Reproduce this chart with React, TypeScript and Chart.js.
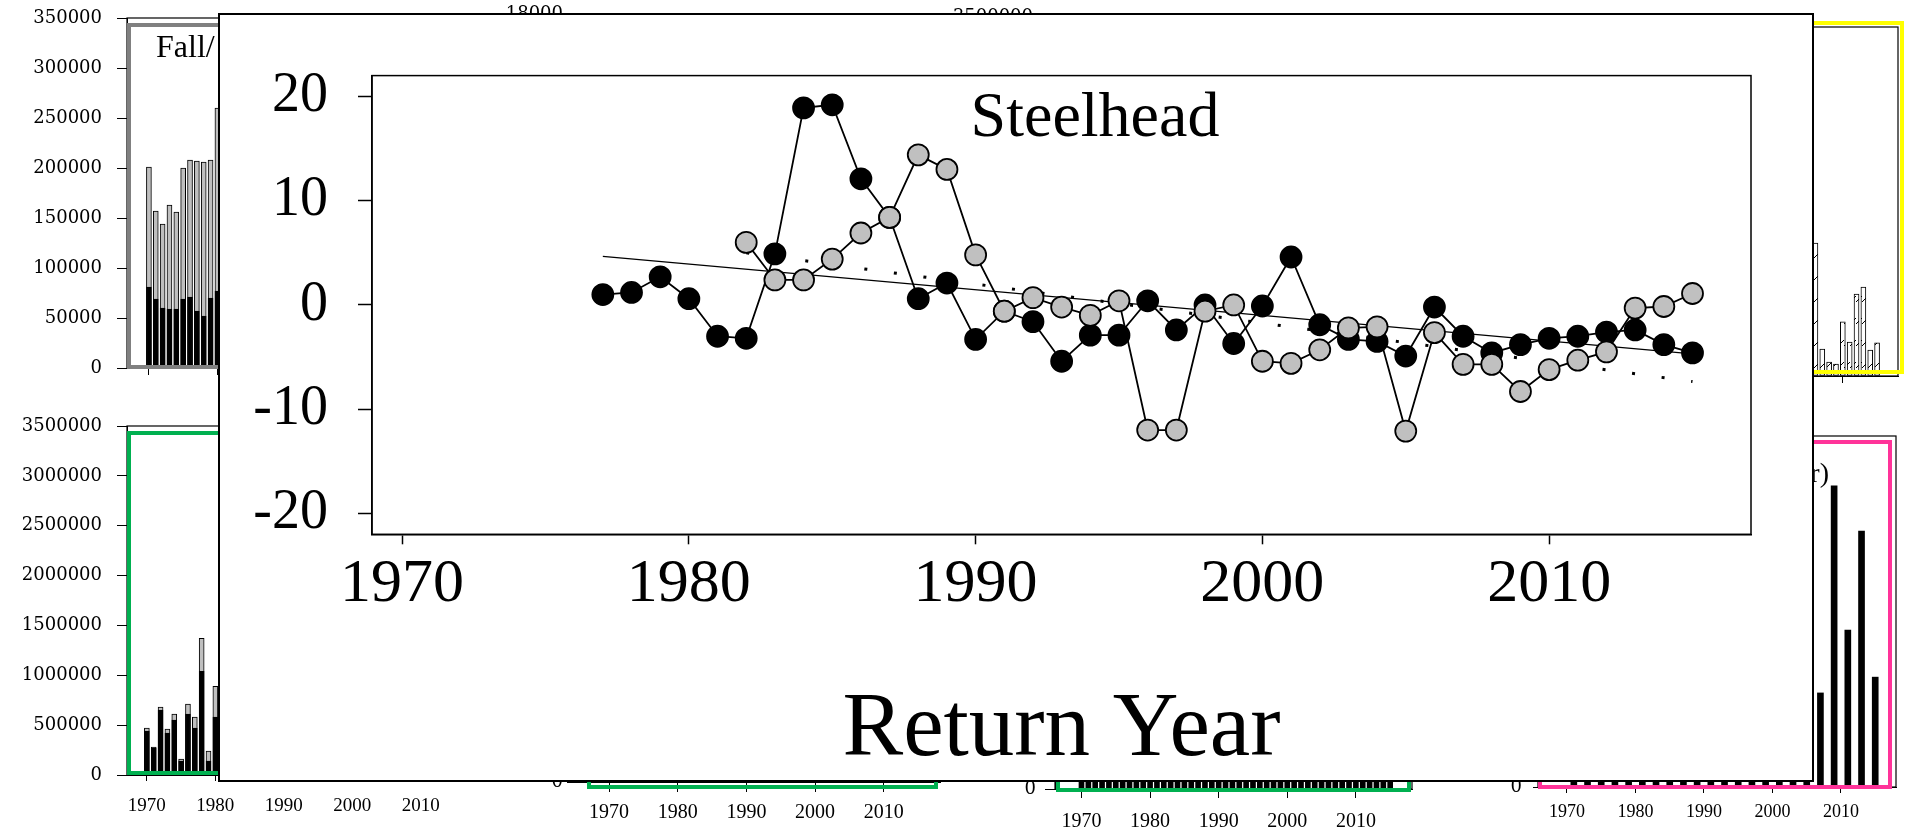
import React, { useEffect, useRef } from 'react';
import { Chart, registerables } from 'chart.js';
Chart.register(...registerables);

// ================= Main chart (Steelhead) =================
const mainXTicks = [1970, 1980, 1990, 2000, 2010];
const mainYTicks = [-20, -10, 0, 10, 20];
const mainTitle = 'Steelhead';
const mainXTitle = 'Return Year';

const steelheadBlackYears = [1977, 1978, 1979, 1980, 1981, 1982, 1983, 1984, 1985, 1986, 1987, 1988, 1989, 1990, 1991, 1992, 1993, 1994, 1995, 1996, 1997, 1998, 1999, 2000, 2001, 2002, 2003, 2004, 2005, 2006, 2007, 2008, 2009, 2010, 2011, 2012, 2013, 2014, 2015];
const steelheadBlack = [1.0, 1.2, 2.7, 0.6, -3.0, -3.2, 4.9, 18.9, 19.2, 12.1, 8.4, 0.6, 2.1, -3.3, -0.6, -1.6, -5.4, -2.9, -2.9, 0.4, -2.4, 0.0, -3.7, -0.1, 4.6, -1.9, -3.3, -3.5, -4.9, -0.2, -3.0, -4.6, -3.8, -3.2, -3.0, -2.6, -2.4, -3.8, -4.6];

const steelheadGrayYears = [1982, 1983, 1984, 1985, 1986, 1987, 1988, 1989, 1990, 1991, 1992, 1993, 1994, 1995, 1996, 1997, 1998, 1999, 2000, 2001, 2002, 2003, 2004, 2005, 2006, 2007, 2008, 2009, 2010, 2011, 2012, 2013, 2014, 2015];
const steelheadGray = [6.0, 2.4, 2.4, 4.4, 6.9, 8.4, 14.4, 13.0, 4.8, -0.6, 0.7, -0.2, -1.0, 0.4, -12.0, -12.0, -0.6, 0.0, -5.4, -5.6, -4.3, -2.2, -2.1, -12.1, -2.65, -5.7, -5.7, -8.3, -6.2, -5.3, -4.5, -0.3, -0.15, 1.1];

const trendBlackYears = [1977, 2015];
const trendBlackValues = [4.65, -4.7];
const trendGrayYears = [1982, 2015];
const trendGrayValues = [5.0, -7.35];

// ================= Background panels =================
const decadeTicks = [1970, 1980, 1990, 2000, 2010];
const zeroTick = [0];

// Top-left panel (Fall/...)
const fallTitle = 'Fall/ Summer Chinook';
const fallYears = [1970, 1971, 1972, 1973, 1974, 1975, 1976, 1977, 1978, 1979, 1980];
const fallTotal = [201000, 157000, 144000, 163000, 156000, 200000, 208000, 207000, 206000, 208000, 260000];
const fallBlack = [81000, 69000, 60000, 59000, 59000, 69000, 71000, 57000, 52000, 70000, 77000];
const fallYTicks = [0, 50000, 100000, 150000, 200000, 250000, 300000, 350000];

// Bottom-left panel
const lowerLeftYears = [1970, 1971, 1972, 1973, 1974, 1975, 1976, 1977, 1978, 1979, 1980];
const lowerLeftTotal = [470000, 280000, 680000, 460000, 610000, 160000, 710000, 580000, 1370000, 240000, 890000];
const lowerLeftBlack = [440000, 270000, 650000, 420000, 550000, 140000, 610000, 470000, 1040000, 140000, 580000];
const millionTicks = [0, 500000, 1000000, 1500000, 2000000, 2500000, 3000000, 3500000];

// Top middle panels (only the top tick labels peek out)
const topMid1YTicks = [0, 2000, 4000, 6000, 8000, 10000, 12000, 14000, 16000, 18000];

// Bottom third panel (dense yearly bars, only their feet are visible)
const denseYears = [1970, 1971, 1972, 1973, 1974, 1975, 1976, 1977, 1978, 1979, 1980, 1981, 1982, 1983, 1984, 1985, 1986, 1987, 1988, 1989, 1990, 1991, 1992, 1993, 1994, 1995, 1996, 1997, 1998, 1999, 2000, 2001, 2002, 2003, 2004, 2005, 2006, 2007, 2008, 2009, 2010, 2011, 2012, 2013, 2014, 2015];
const denseValues = [2.5, 2.5, 2.5, 2.5, 2.5, 2.5, 2.5, 2.5, 2.5, 2.5, 2.5, 2.5, 2.5, 2.5, 2.5, 2.5, 2.5, 2.5, 2.5, 2.5, 2.5, 2.5, 2.5, 2.5, 2.5, 2.5, 2.5, 2.5, 2.5, 2.5, 2.5, 2.5, 2.5, 2.5, 2.5, 2.5, 2.5, 2.5, 2.5, 2.5, 2.5, 2.5, 2.5, 2.5, 2.5, 2.5];

// Bottom-right panel (pink, odd years)
const pinkTitle = 'Pink (odd year)';
const pinkYears = [1971, 1973, 1975, 1977, 1979, 1981, 1983, 1985, 1987, 1989, 1991, 1993, 1995, 1997, 1999, 2001, 2003, 2005, 2007, 2009, 2011, 2013, 2015];
const pinkValues = [2, 2, 2, 2, 2, 2, 2, 2, 2, 2, 2, 2, 2, 2, 2, 2, 2, 2, 26.8, 85.8, 44.7, 72.9, 31.3];

// Top-right panel (yellow, hatched bars)
const yellowYears = [2006, 2007, 2008, 2009, 2010, 2011, 2012, 2013, 2014, 2015];
const yellowValues = [38.1, 7.7, 4.0, 3.4, 15.5, 9.7, 23.5, 25.5, 7.4, 9.5];

// ================= Layout specs =================
type Box = { color: string; lw: number; l: number; t: number; r: number; b: number };
type Txt = { str: string; dx: number; dy: number; align: CanvasTextAlign; size: number; fromRight?: boolean };
type PanelLayout = {
  key: string;
  left: number; top: number; width: number; height: number;
  yAxisW: number; xAxisH: number; padTop: number; padRight: number;
  xMin: number; xMax: number; xTicks: number[]; xLabels: boolean; xTickLen: number; xLabelPad: number; xFont: number;
  yMin: number; yMax: number; yTicks: number[]; yLabels: boolean; yTickLen: number; yLabelPad: number; yFont: number;
  frame: boolean; box?: Box; text?: Txt;
};

const PX_PER_YEAR = 6.85;
const Y_LABEL_FONT = 18;

const panels: PanelLayout[] = [
  {
    key: 'tl', left: 0, top: 0, width: 486, height: 380, yAxisW: 127, xAxisH: 12, padTop: 18, padRight: 10,
    xMin: 1966.8, xMax: 1966.8 + 349 / PX_PER_YEAR, xTicks: decadeTicks, xLabels: false, xTickLen: 7, xLabelPad: 4, xFont: 19,
    yMin: 0, yMax: 350000, yTicks: fallYTicks, yLabels: true, yTickLen: 10, yLabelPad: 15, yFont: Y_LABEL_FONT,
    frame: true, box: { color: '#808080', lw: 4, l: 2, t: 7, r: -6, b: -1 },
    text: { str: fallTitle, dx: 29, dy: 39, align: 'left', size: 32 },
  },
  {
    key: 'bl', left: 0, top: 400, width: 486, height: 420, yAxisW: 127, xAxisH: 45, padTop: 26, padRight: 10,
    xMin: 1967.1, xMax: 1967.1 + 349 / PX_PER_YEAR, xTicks: decadeTicks, xLabels: true, xTickLen: 6, xLabelPad: 14, xFont: 19,
    yMin: 0, yMax: 3500000, yTicks: millionTicks, yLabels: true, yTickLen: 10, yLabelPad: 15, yFont: Y_LABEL_FONT,
    frame: true, box: { color: '#00b050', lw: 4, l: 2, t: 7, r: -6, b: -2 },
  },
  {
    key: 'tm1', left: 461, top: 0, width: 489, height: 380, yAxisW: 127, xAxisH: 12, padTop: 14.5, padRight: 10,
    xMin: 1966.8, xMax: 2018, xTicks: decadeTicks, xLabels: false, xTickLen: 7, xLabelPad: 4, xFont: 19,
    yMin: 0, yMax: 18000, yTicks: topMid1YTicks, yLabels: true, yTickLen: 10, yLabelPad: 15, yFont: Y_LABEL_FONT,
    frame: true,
  },
  {
    key: 'tm2', left: 931, top: 0, width: 489, height: 380, yAxisW: 127, xAxisH: 12, padTop: 17.5, padRight: 10,
    xMin: 1966.8, xMax: 2018, xTicks: decadeTicks, xLabels: false, xTickLen: 7, xLabelPad: 4, xFont: 19,
    yMin: 0, yMax: 3500000, yTicks: millionTicks, yLabels: true, yTickLen: 10, yLabelPad: 15, yFont: Y_LABEL_FONT,
    frame: true,
  },
  {
    key: 'bm1', left: 497, top: 426, width: 463, height: 404, yAxisW: 80, xAxisH: 48, padTop: 10, padRight: 20,
    xMin: 1965.34, xMax: 1965.34 + 363 / 6.87, xTicks: decadeTicks, xLabels: true, xTickLen: 10, xLabelPad: 9, xFont: 20,
    yMin: 0, yMax: 100, yTicks: zeroTick, yLabels: true, yTickLen: 10, yLabelPad: 4, yFont: Y_LABEL_FONT,
    frame: true, box: { color: '#00b050', lw: 4, l: 12, t: 8, r: -4, b: 5 },
  },
  {
    key: 'bm2', left: 975, top: 426, width: 457, height: 404, yAxisW: 80, xAxisH: 41, padTop: 10, padRight: 20,
    xMin: 1966.14, xMax: 1966.14 + 357 / 6.86, xTicks: decadeTicks, xLabels: true, xTickLen: 9, xLabelPad: 12, xFont: 20,
    yMin: 0, yMax: 100, yTicks: zeroTick, yLabels: true, yTickLen: 10, yLabelPad: 9, yFont: Y_LABEL_FONT,
    frame: true, box: { color: '#00b050', lw: 4, l: 3, t: 8, r: -3, b: 1 },
  },
  {
    key: 'br', left: 1478, top: 426, width: 427, height: 401, yAxisW: 60, xAxisH: 40, padTop: 10, padRight: 9,
    xMin: 1965.77, xMax: 1965.77 + 358 / PX_PER_YEAR, xTicks: decadeTicks, xLabels: true, xTickLen: 6, xLabelPad: 8.2, xFont: 18,
    yMin: 0, yMax: 100, yTicks: zeroTick, yLabels: true, yTickLen: 5, yLabelPad: 11, yFont: Y_LABEL_FONT,
    frame: true, box: { color: '#ff3399', lw: 4, l: 2, t: 6, r: -6, b: 0 },
    text: { str: pinkTitle, dx: -67, dy: 46, align: 'right', size: 28, fromRight: true },
  },
  {
    key: 'tr', left: 1478, top: 0, width: 427, height: 388, yAxisW: 60, xAxisH: 12, padTop: 27, padRight: 7,
    xMin: 1965.5, xMax: 1965.5 + 360 / PX_PER_YEAR, xTicks: decadeTicks, xLabels: false, xTickLen: 7, xLabelPad: 4, xFont: 18,
    yMin: 0, yMax: 100, yTicks: zeroTick, yLabels: false, yTickLen: 5, yLabelPad: 11, yFont: Y_LABEL_FONT,
    frame: true, box: { color: '#ffff00', lw: 4, l: 2, t: -4, r: 4, b: -4 },
  },
];

// ================= Helpers =================
function decoPlugin(opts: { frame: boolean; frameW: number; box?: Box; text?: Txt; font: string }) {
  return {
    id: 'deco',
    afterDatasetsDraw(chart: any) {
      const { ctx, chartArea: a } = chart;
      ctx.save();
      if (opts.frame) {
        ctx.strokeStyle = '#000';
        ctx.lineWidth = opts.frameW;
        ctx.strokeRect(a.left, a.top, a.right - a.left, a.bottom - a.top);
      }
      if (opts.box) {
        const b = opts.box;
        const x1 = a.left + b.l, y1 = a.top + b.t, x2 = a.right + b.r, y2 = a.bottom + b.b;
        ctx.strokeStyle = b.color;
        ctx.lineWidth = b.lw;
        ctx.strokeRect(x1, y1, x2 - x1, y2 - y1);
      }
      if (opts.text) {
        const t = opts.text;
        ctx.fillStyle = '#000';
        ctx.font = `${t.size}px ${opts.font}`;
        ctx.textAlign = t.align;
        ctx.textBaseline = 'alphabetic';
        const x = t.fromRight ? a.right + t.dx : a.left + t.dx;
        ctx.fillText(t.str, x, a.top + t.dy);
      }
      ctx.restore();
    },
  };
}

// keep the chart area exactly where the layout says (no extra label padding)
const noPad = (s: any) => {
  s.paddingTop = 0;
  s.paddingBottom = 0;
  s.paddingLeft = 0;
  s.paddingRight = 0;
};

const toPoints = (xs: number[], ys: number[]) => xs.map((x, i) => ({ x, y: ys[i] }));

function makePanel(canvas: HTMLCanvasElement, p: PanelLayout, datasets: any[]) {
  return new Chart(canvas, {
    type: 'bar',
    data: { datasets },
    options: {
      animation: false,
      responsive: false,
      devicePixelRatio: 1,
      events: [],
      layout: { padding: { top: p.padTop, right: p.padRight, left: 0, bottom: 0 } },
      plugins: { legend: { display: false }, tooltip: { enabled: false } },
      scales: {
        x: {
          type: 'linear', min: p.xMin, max: p.xMax, offset: false,
          afterBuildTicks: (s: any) => { s.ticks = p.xTicks.map((v) => ({ value: v })); },
          afterFit: (s: any) => { s.height = p.xAxisH; noPad(s); },
          grid: { offset: false, drawOnChartArea: false, drawTicks: true, tickLength: p.xTickLen, tickColor: '#000', tickWidth: 1 },
          border: { display: true, color: '#000', width: 1 },
          ticks: {
            display: p.xLabels, color: '#000', font: { family: 'Liberation Serif', size: p.xFont },
            padding: p.xLabelPad, maxRotation: 0, minRotation: 0, autoSkip: false, callback: (v: any) => String(v),
          },
        },
        y: {
          type: 'linear', min: p.yMin, max: p.yMax,
          afterBuildTicks: (s: any) => { s.ticks = p.yTicks.map((v) => ({ value: v })); },
          afterFit: (s: any) => { s.width = p.yAxisW; noPad(s); },
          grid: { drawOnChartArea: false, drawTicks: true, tickLength: p.yTickLen, tickColor: '#000', tickWidth: 1 },
          border: { display: true, color: '#000', width: 1 },
          ticks: {
            display: p.yLabels, color: '#000', font: { family: 'DejaVu Serif', size: p.yFont },
            padding: p.yLabelPad, autoSkip: false, callback: (v: any) => String(v),
          },
        },
      },
    } as any,
    plugins: [decoPlugin({ frame: p.frame, frameW: 1.2, box: p.box, text: p.text, font: 'Liberation Serif' })],
  });
}

function makeHatch(): CanvasPattern | string {
  const pc = document.createElement('canvas');
  pc.width = 6;
  pc.height = 22;
  const g = pc.getContext('2d');
  if (!g) return '#fff';
  g.fillStyle = '#fff';
  g.fillRect(0, 0, 6, 22);
  g.strokeStyle = '#000';
  g.lineWidth = 1;
  g.beginPath();
  g.moveTo(0, 16);
  g.lineTo(6, 10);
  g.stroke();
  return g.createPattern(pc, 'repeat') || '#fff';
}

function panelDatasets(key: string, hatch: CanvasPattern | string): any[] {
  const bar = { barThickness: 5, borderColor: '#000', borderWidth: 1, grouped: false, borderSkipped: false };
  if (key === 'tl') {
    return [
      { ...bar, data: toPoints(fallYears, fallBlack), backgroundColor: '#000', order: 0 },
      { ...bar, data: toPoints(fallYears, fallTotal), backgroundColor: '#bfbfbf', order: 1 },
    ];
  }
  if (key === 'bl') {
    return [
      { ...bar, data: toPoints(lowerLeftYears, lowerLeftBlack), backgroundColor: '#000', order: 0 },
      { ...bar, data: toPoints(lowerLeftYears, lowerLeftTotal), backgroundColor: '#bfbfbf', order: 1 },
    ];
  }
  if (key === 'bm2') {
    return [{ ...bar, data: toPoints(denseYears, denseValues), backgroundColor: '#000', borderWidth: 0 }];
  }
  if (key === 'br') {
    return [{ ...bar, barThickness: 6, data: toPoints(pinkYears, pinkValues), backgroundColor: '#000', borderWidth: 0 }];
  }
  if (key === 'tr') {
    return [{ ...bar, data: toPoints(yellowYears, yellowValues), backgroundColor: hatch }];
  }
  return [];
}

// Main chart geometry (canvas inside the white overlay box)
const MAIN_W = 1592;
const MAIN_H = 765;

function makeMain(canvas: HTMLCanvasElement) {
  const yAxisW = 152;
  const padTop = 60.6;
  const padRight = 61;
  const xAxisH = 245.7;
  return new Chart(canvas, {
    type: 'line',
    data: {
      datasets: [
        {
          label: 'gray', data: toPoints(steelheadGrayYears, steelheadGray),
          borderColor: '#000', borderWidth: 1.8, tension: 0,
          pointRadius: 10.5, pointBackgroundColor: '#c0c0c0', pointBorderColor: '#000', pointBorderWidth: 1.8,
          order: 0,
        },
        {
          label: 'black', data: toPoints(steelheadBlackYears, steelheadBlack),
          borderColor: '#000', borderWidth: 1.8, tension: 0,
          pointRadius: 10.5, pointBackgroundColor: '#000', pointBorderColor: '#000', pointBorderWidth: 1.8,
          order: 1,
        },
        {
          label: 'trend black', data: toPoints(trendBlackYears, trendBlackValues),
          borderColor: '#000', borderWidth: 1.3, pointRadius: 0, order: 2,
        },
        {
          label: 'trend gray', data: toPoints(trendGrayYears, trendGrayValues),
          borderColor: '#000', borderWidth: 3, borderDash: [3, 26.8], borderCapStyle: 'butt', pointRadius: 0, order: 3,
        },
      ],
    },
    options: {
      animation: false,
      responsive: false,
      devicePixelRatio: 1,
      events: [],
      layout: { padding: { top: padTop, right: padRight, left: 0, bottom: 0 } },
      plugins: { legend: { display: false }, tooltip: { enabled: false } },
      scales: {
        x: {
          type: 'linear', min: 1968.95, max: 2017.04,
          afterBuildTicks: (s: any) => { s.ticks = mainXTicks.map((v) => ({ value: v })); },
          afterFit: (s: any) => { s.height = xAxisH; noPad(s); },
          grid: { drawOnChartArea: false, drawTicks: true, tickLength: 10, tickColor: '#000', tickWidth: 1.5 },
          border: { display: true, color: '#000', width: 1.5 },
          ticks: {
            color: '#000', font: { family: 'Liberation Serif', size: 62 }, padding: 3,
            maxRotation: 0, minRotation: 0, autoSkip: false, callback: (v: any) => String(v),
          },
          title: {
            display: true, text: mainXTitle, color: '#000',
            font: { family: 'Liberation Serif', size: 91, lineHeight: 1 }, padding: { top: 0, bottom: 3.5 },
          },
        },
        y: {
          type: 'linear', min: -22, max: 22,
          afterBuildTicks: (s: any) => { s.ticks = mainYTicks.map((v) => ({ value: v })); },
          afterFit: (s: any) => { s.width = yAxisW; noPad(s); },
          grid: { drawOnChartArea: false, drawTicks: true, tickLength: 14, tickColor: '#000', tickWidth: 1.5 },
          border: { display: true, color: '#000', width: 1.5 },
          ticks: {
            color: '#000', font: { family: 'Liberation Serif', size: 56 }, padding: 30,
            autoSkip: false, callback: (v: any) => String(v),
          },
        },
      },
    } as any,
    plugins: [decoPlugin({
      frame: true, frameW: 1.5,
      text: { str: mainTitle, dx: 723, dy: 60, align: 'center', size: 64 },
      font: 'Liberation Serif',
    })],
  });
}

export default function App() {
  const refs = useRef<(HTMLCanvasElement | null)[]>([]);
  const mainRef = useRef<HTMLCanvasElement | null>(null);

  useEffect(() => {
    const charts: Chart[] = [];
    const hatch = makeHatch();
    panels.forEach((p, i) => {
      const c = refs.current[i];
      if (c) charts.push(makePanel(c, p, panelDatasets(p.key, hatch)));
    });
    if (mainRef.current) charts.push(makeMain(mainRef.current));
    return () => charts.forEach((c) => c.destroy());
  }, []);

  return (
    <div style={{ position: 'fixed', left: 0, top: 0, width: 1905, height: 830, background: '#fff', overflow: 'hidden' }}>
      {panels.map((p, i) => (
        <canvas
          key={p.key}
          ref={(el) => { refs.current[i] = el; }}
          width={p.width}
          height={p.height}
          style={{ position: 'absolute', left: p.left, top: p.top, width: p.width, height: p.height, zIndex: 1 }}
        />
      ))}
      <div
        style={{
          position: 'absolute', left: 218, top: 13, width: 1596, height: 769,
          border: '2px solid #000', boxSizing: 'border-box', background: '#fff', zIndex: 10,
        }}
      >
        <canvas
          ref={mainRef}
          width={MAIN_W}
          height={MAIN_H}
          style={{ position: 'absolute', left: 0, top: 0, width: MAIN_W, height: MAIN_H }}
        />
      </div>
    </div>
  );
}
